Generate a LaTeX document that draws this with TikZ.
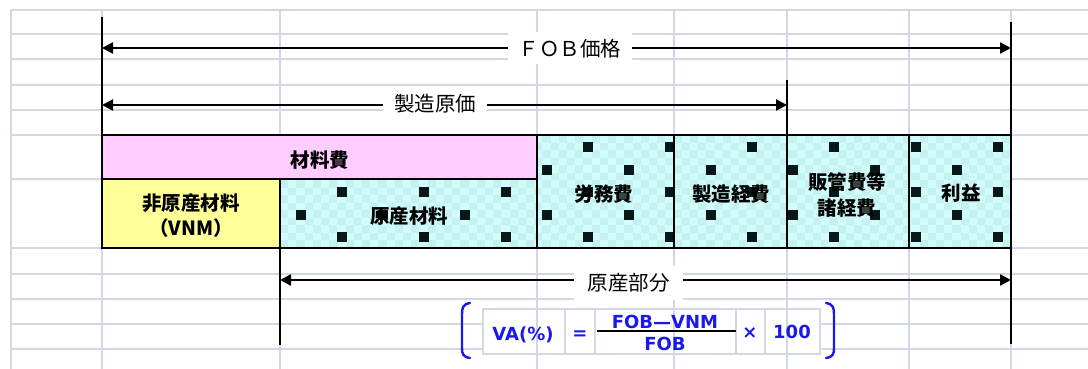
\documentclass[tikz,border=0pt]{standalone}
\usepackage{fontspec}
\usetikzlibrary{arrows.meta}
\newfontfamily\jp{Noto Sans CJK JP}
\newfontfamily\jpheavy{Noto Sans CJK JP}[UprightFont=*, BoldFont=*, FakeBold=0.6]
\newfontfamily\fml{DejaVu Sans}
\definecolor{gridc}{RGB}{208,215,229}
\definecolor{pinkc}{RGB}{255,204,255}
\definecolor{yelc}{RGB}{255,255,153}
\definecolor{cyanc}{RGB}{208,252,252}
\definecolor{cyand}{RGB}{197,241,241}
\definecolor{dotc}{RGB}{8,24,24}
\definecolor{fblue}{RGB}{25,25,235}
\begin{document}
\begin{tikzpicture}[x=1pt,y=-1pt,
  grid/.style={gridc, line width=2pt},
  tick/.style={black, line width=2.2pt},
  arr/.style={black, line width=2.4pt, -{Triangle[length=11pt,width=11pt]}},
  cell/.style={draw=black, line width=2pt, inner sep=0pt, outer sep=0pt},
  boxtxt/.style={font=\jp\bfseries\fontsize{19.5}{25}\selectfont, align=center, inner sep=0pt},
  lbl/.style={fill=white, inner sep=0pt, font=\jp\fontsize{20.5}{22}\selectfont},
  ftxt/.style={text=fblue, font=\fml\bfseries\fontsize{18}{20}\selectfont, inner sep=0pt, anchor=base},
]
\useasboundingbox (0,0) rectangle (1088,369);
\fill[white] (0,0) rectangle (1088,369);
% spreadsheet grid
\foreach \yy in {10,34,59,85,110,135,179,248,274,299,324,349}
  \draw[grid] (11,\yy) -- (1088,\yy);
\foreach \xx in {11,102,280,537,674,787,909,1011}
  \draw[grid] (\xx,10) -- (\xx,369);
% cyan patterned fills
\fill[cyanc] (280,179) rectangle (537,248);
\fill[cyanc] (537,135) rectangle (1011,248);
\begin{scope}
  \clip (280,179) rectangle (537,248) (537,135) rectangle (1011,248);
  \foreach \i in {0,...,89} {
    \foreach \j in {0,...,15} {
      \pgfmathtruncatemacro{\m}{mod(\i+\j,2)}
      \ifnum\m=0
        \fill[cyand] (280+\i*8.2, 135+\j*7.5) rectangle ++(8.2,7.5);
      \fi
    }
  }
  \foreach \k in {0,...,17} {
    \foreach \j in {0,...,4} {
      \pgfmathtruncatemacro{\p}{mod(\k+\j,2)}
      \ifnum\p=1
        \fill[dotc] (301+\k*41-5, 147+\j*22.5-5) rectangle ++(10,10);
      \fi
    }
  }
\end{scope}
% boxes
\node[cell, fill=pinkc, minimum width=435pt, minimum height=44pt] (mat) at (319.5,157) {};
\node[cell, fill=yelc, minimum width=178pt, minimum height=69pt] (hig) at (191,213.5) {};
\node[cell, minimum width=257pt, minimum height=69pt] (gen) at (408.5,213.5) {};
\node[cell, minimum width=137pt, minimum height=113pt] (rou) at (605.5,191.5) {};
\node[cell, minimum width=113pt, minimum height=113pt] (sei) at (730.5,191.5) {};
\node[cell, minimum width=122pt, minimum height=113pt] (han) at (848,191.5) {};
\node[cell, minimum width=102pt, minimum height=113pt] (rie) at (960,191.5) {};
% box texts
\node[boxtxt] (tmat) at (320,160) {材料費};
\node[boxtxt] (thig) at (191,215.5) {非原産材料\\{\addfontfeatures{RawFeature=+halt}（VNM）}};
\node[boxtxt] (tgen) at (409,216) {原産材料};
\node[boxtxt] (trou) at (604,194) {労務費};
\node[boxtxt] (tsei) at (731,194) {製造経費};
\node[boxtxt, font=\jp\bfseries\fontsize{19.5}{26}\selectfont] (than) at (847,195) {販管費等\\諸経費};
\node[boxtxt] (trie) at (961,193) {利益};
% dimension ticks
\coordinate (fLt) at (102,17);
\coordinate (fRt) at (1011,22);
\coordinate (sRt) at (787,80);
\coordinate (gLb) at (280,345);
\coordinate (gRb) at (1011,344);
\draw[tick] (fLt) -- (mat.north west);
\draw[tick] (fRt) -- (rie.north east);
\draw[tick] (sRt) -- (han.north west);
\draw[tick] (gen.south west) -- (gLb);
\draw[tick] (rie.south east) -- (gRb);
\coordinate (fL) at (102,48);
\coordinate (fR) at (1011,48);
\coordinate (sL) at (102,105);
\coordinate (sR) at (787,105);
\coordinate (gL) at (280,280);
\coordinate (gR) at (1011,280);
% labels
\node[lbl, minimum width=124pt, minimum height=32pt] (fob) at (570,48.5) {ＦＯＢ価格};
\node[lbl, minimum width=104pt, minimum height=26pt] (scost) at (435,104) {製造原価};
\node[lbl, minimum width=109pt, minimum height=34pt] (gbu) at (628.5,283) {原産部分};
\draw[arr] (fob.west |- fL) -- (fL);
\draw[arr] (fob.east |- fR) -- (fR);
\draw[arr] (scost.west |- sL) -- (sL);
\draw[arr] (scost.east |- sR) -- (sR);
\draw[arr] (gbu.west |- gL) -- (gL);
\draw[arr] (gbu.east |- gR) -- (gR);
% formula
\fill[white] (483,309) rectangle (820,354);
\foreach \xx in {537,674,787}
  \draw[grid] (\xx,309) -- (\xx,354);
\draw[gridc, line width=1.5pt] (483,309) rectangle (820,354);
\foreach \xx in {565,595,736,765}
  \draw[gridc, line width=1.5pt] (\xx,309) -- (\xx,354);
\draw[fblue, line width=2.4pt, line cap=round] (470,303) .. controls (463,304) and (462,308) .. (462,314) -- (462,348) .. controls (462,354) and (463,357) .. (470,358);
\draw[fblue, line width=2.4pt, line cap=round] (826,303) .. controls (833,304) and (834,308) .. (834,314) -- (834,348) .. controls (834,354) and (833,357) .. (826,358);
\node[ftxt] (va) at (523,340) {VA(\%)};
\node[ftxt] (eq) at (580,339) {=};
\node[ftxt] (num) at (665,328) {FOB—VNM};
\node[ftxt] (den) at (665,350) {FOB};
\node[ftxt] (times) at (750,338) {×};
\node[ftxt] (hund) at (792,338.5) {100};
\coordinate (fracL) at (597,331);
\coordinate (fracR) at (736,331);
\draw[black, line width=2pt] (fracL) -- (fracR);
\end{tikzpicture}
\end{document}
